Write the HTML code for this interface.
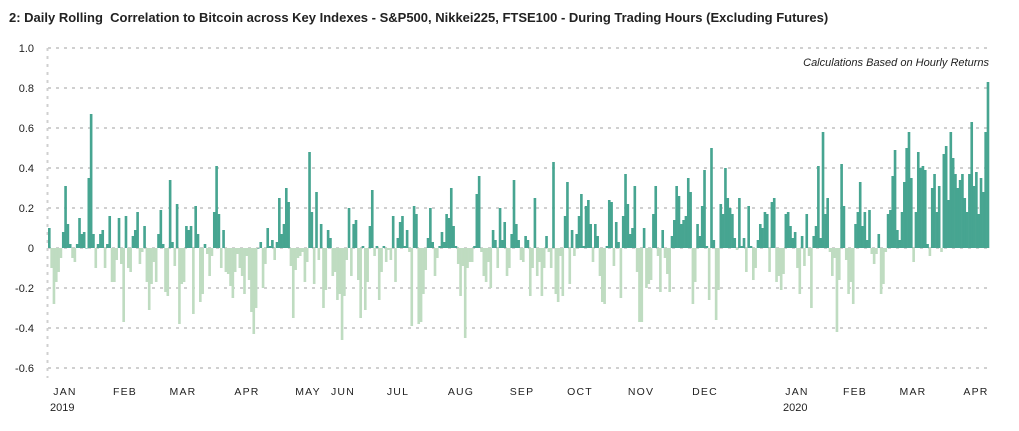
<!DOCTYPE html>
<html><head><meta charset="utf-8"><style>
body{margin:0;background:#fff;width:1019px;height:426px;overflow:hidden;font-family:"Liberation Sans",sans-serif}
</style></head><body>
<svg id="chart" width="1019" height="426" xmlns="http://www.w3.org/2000/svg">
<text x="9" y="22" font-size="13" font-weight="bold" fill="#222" style="white-space:pre">2: Daily Rolling  Correlation to Bitcoin across Key Indexes - S&amp;P500, Nikkei225, FTSE100 - During Trading Hours (Excluding Futures)</text>
<text x="989" y="66" font-size="11" font-style="italic" text-anchor="end" fill="#222">Calculations Based on Hourly Returns</text>
<g id="grid"></g><g id="bars"></g><g id="axes"></g>
</svg>
<script>
const values=[0.10,-0.10,-0.28,-0.17,-0.12,-0.05,0.08,0.31,0.12,0.02,-0.05,-0.07,0.02,0.15,0.07,0.08,0.0,0.35,0.67,0.07,-0.10,0.02,0.07,0.09,-0.10,0.02,0.16,-0.17,-0.17,-0.06,0.15,-0.08,-0.37,0.16,-0.10,-0.12,0.06,0.09,0.18,-0.08,-0.02,0.11,-0.17,-0.31,-0.18,-0.07,-0.17,0.07,0.19,
0.02,-0.22,-0.24,0.34,0.03,-0.09,0.22,-0.38,-0.18,-0.17,0.11,0.09,0.11,-0.33,0.21,0.07,-0.27,-0.23,0.02,-0.03,-0.14,-0.04,0.18,0.41,0.17,-0.10,0.09,-0.12,-0.13,-0.19,-0.25,-0.12,-0.03,-0.10,-0.14,-0.23,-0.04,-0.16,-0.32,-0.43,-0.30,0.0,0.03,-0.20,-0.08,0.10,0.01,0.04,-0.06,0.03,
0.25,0.07,0.12,0.30,0.23,-0.09,-0.35,-0.11,-0.05,-0.04,-0.02,-0.17,-0.07,0.48,0.18,-0.18,0.28,-0.06,0.12,-0.30,-0.21,0.09,0.05,-0.14,-0.12,-0.26,-0.23,-0.46,-0.24,-0.06,0.20,-0.14,0.12,0.14,-0.16,-0.35,0.01,-0.31,-0.17,0.11,0.29,-0.04,0.01,-0.26,-0.12,0.01,-0.07,-0.01,-0.06,0.16,-0.17,
0.05,0.13,0.16,0.01,0.09,-0.02,-0.39,0.21,0.17,-0.38,-0.37,-0.23,-0.11,0.05,0.20,0.03,-0.14,-0.05,0.01,0.08,0.03,0.17,0.15,0.30,0.11,0.01,-0.08,-0.24,-0.09,-0.45,-0.10,-0.07,-0.07,0.01,0.27,0.36,-0.02,-0.14,-0.17,-0.07,-0.20,0.09,0.04,-0.10,0.20,0.04,0.13,-0.14,-0.10,0.07,0.34,
0.12,0.04,-0.06,-0.07,0.06,0.04,-0.24,-0.10,0.25,-0.14,-0.07,-0.24,-0.10,0.06,-0.02,-0.10,0.43,-0.23,-0.27,-0.04,-0.24,0.16,0.33,-0.18,0.09,-0.04,0.07,0.16,0.27,0.01,0.21,0.24,0.12,-0.07,0.12,0.06,-0.14,-0.27,-0.28,0.01,0.24,0.23,-0.09,0.13,0.03,-0.25,0.16,0.37,0.22,0.07,0.10,0.31,
-0.12,-0.37,-0.37,0.10,-0.20,-0.18,-0.16,0.17,0.31,-0.04,-0.22,0.09,-0.05,-0.13,-0.22,0.06,0.14,0.31,0.26,0.12,0.14,0.16,0.35,0.28,-0.28,-0.17,0.12,0.06,0.21,0.39,0.01,-0.26,0.50,0.04,-0.36,-0.21,0.22,0.17,0.40,0.25,0.20,0.17,0.05,-0.01,0.25,0.01,0.05,-0.12,0.21,0.01,-0.16,
-0.10,0.04,0.12,0.10,0.18,0.17,-0.12,0.23,0.25,-0.17,-0.14,-0.21,-0.13,0.17,0.18,0.11,0.05,0.08,-0.10,-0.23,0.06,-0.09,0.17,-0.04,-0.30,0.06,0.11,0.41,0.05,0.58,0.17,0.25,-0.02,-0.14,-0.05,-0.42,-0.16,0.42,0.21,-0.06,-0.23,-0.17,-0.28,0.12,0.18,0.33,0.11,0.18,0.04,0.19,-0.03,-0.08,-0.03,
0.07,-0.23,-0.18,-0.02,0.17,0.19,0.36,0.49,0.09,0.04,0.18,0.33,0.50,0.58,0.35,-0.07,0.18,0.48,0.40,0.41,0.39,0.02,-0.04,0.30,0.37,0.18,0.31,-0.02,0.47,0.51,0.24,0.58,0.45,0.37,0.30,0.34,0.37,0.25,0.18,0.37,0.63,0.31,0.38,0.17,0.35,0.28,0.58,0.83];
const yTicks=[1.0,0.8,0.6,0.4,0.2,0,-0.2,-0.4,-0.6];
const yTickLabels=["1.0","0.8","0.6","0.4","0.2","0","-0.2","-0.4","-0.6"];
const monthLabels=["JAN","FEB","MAR","APR","MAY","JUN","JUL","AUG","SEP","OCT","NOV","DEC","JAN","FEB","MAR","APR"];
const monthCenters=[65,125,183,247,308,343,398,461,522,580,641,705,797,855,913,976];
const ns="http://www.w3.org/2000/svg";
const X0=48,X1=989,Y0=248,PPU=200;
const y=v=>Y0-v*PPU;
const bw=(X1-X0)/values.length;
const xs=i=>X0+i*bw;
const grid=document.getElementById('grid'),bars=document.getElementById('bars'),axes=document.getElementById('axes');
function mk(t,a){const e=document.createElementNS(ns,t);for(const k in a)e.setAttribute(k,a[k]);return e;}
yTicks.forEach((t,i)=>{
 const l=mk('line',{x1:X0,x2:X1,y1:y(t),y2:y(t),stroke:'#d0d0d0','stroke-width':2,'stroke-dasharray':'3,5'});
 
 
 grid.appendChild(l);
 const tx=mk('text',{x:34,y:y(t)+4,'font-size':11,'text-anchor':'end',fill:'#222'});
 tx.textContent=yTickLabels[i];
 
 
 axes.appendChild(tx);
});
const vl=mk('line',{x1:X0-0.5,x2:X0-0.5,y1:y(1.0),y2:y(-0.6)+10,stroke:'#d0d0d0','stroke-width':2,'stroke-dasharray':'3,5'});


grid.appendChild(vl);
values.forEach((v,i)=>{
 const top=v>=0?y(v):Y0, h=Math.max(Math.abs(v)*PPU,0.5);
 const r=mk('rect',{x:xs(i),y:top,width:bw+0.3,height:h,fill:v>=0?'#47a591':'#bfdcc1'});
 
 
 bars.appendChild(r);
});
monthLabels.forEach((m,i)=>{
 const t=mk('text',{x:monthCenters[i],y:395,'font-size':10.5,'text-anchor':'middle',fill:'#222','letter-spacing':'1.2'});
 t.textContent=m;
 
 
 axes.appendChild(t);
});
[["2019",50],["2020",783]].forEach(([yr,x])=>{
 const t=mk('text',{x:x,y:411,'font-size':11,fill:'#222'});
 t.textContent=yr;
 
 
 axes.appendChild(t);
});
</script>
</body></html>
